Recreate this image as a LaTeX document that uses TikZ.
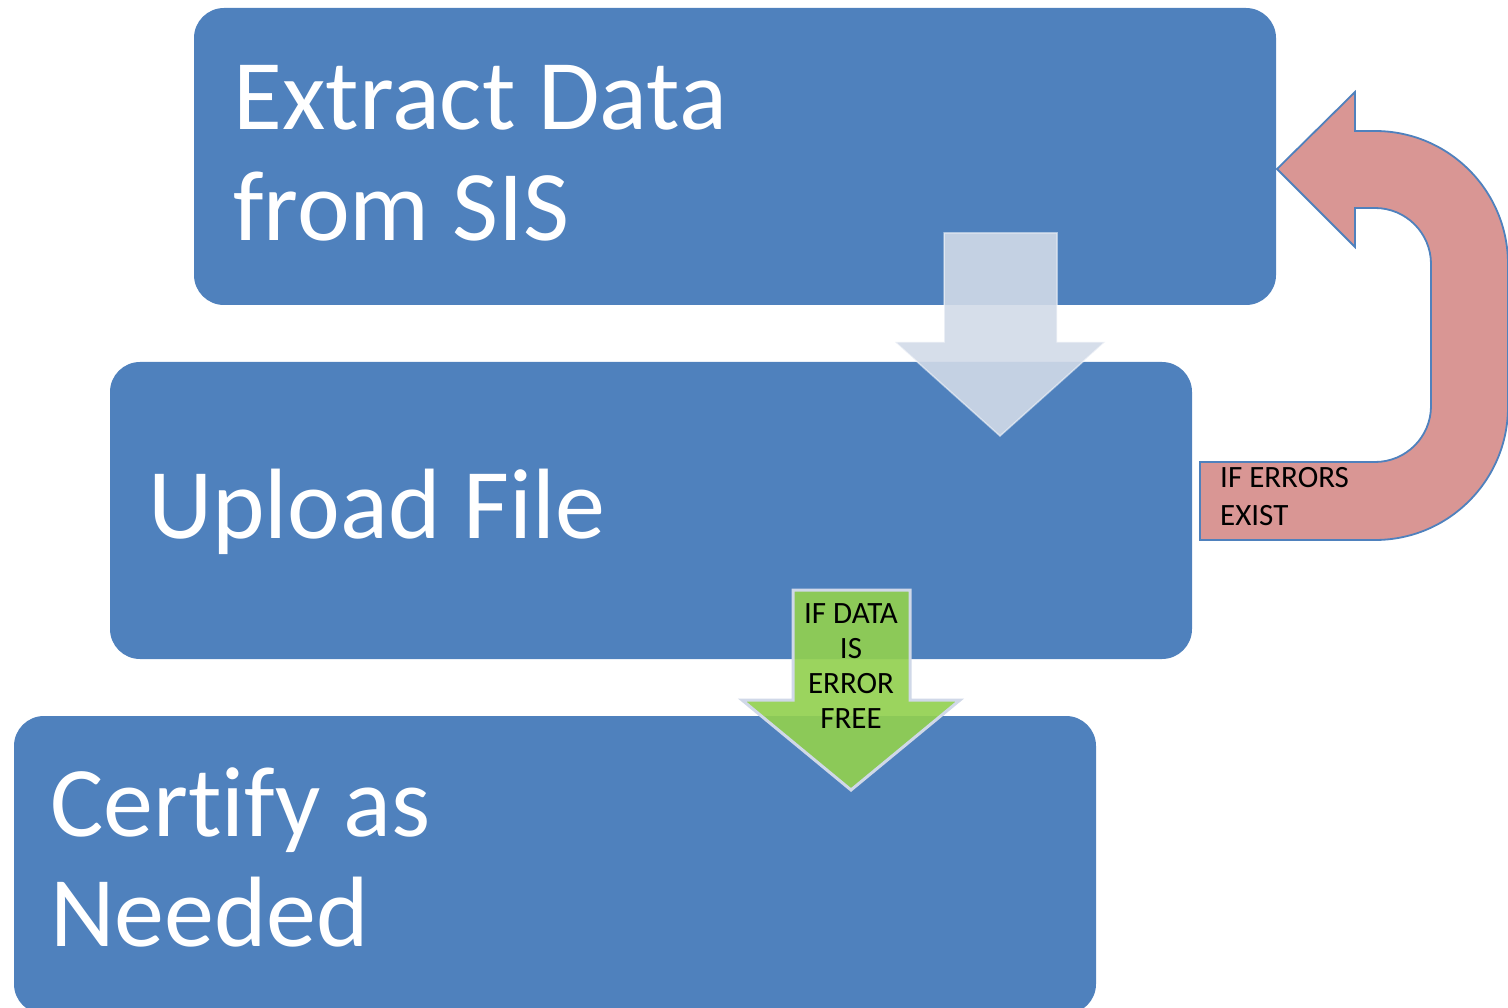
\documentclass[tikz,border=0pt]{standalone}
\usepackage{fontspec}
\setmainfont{Carlito}[Ligatures=NoCommon]
\begin{document}
\begin{tikzpicture}[x=1pt,y=-1pt,
  stepbox/.style={fill=boxblue,rounded corners=30pt},
  bigtext/.style={text=white,inner sep=0pt,anchor=base west,font=\fontsize{100}{111}\selectfont},
  smalltext/.style={text=black,inner sep=0pt,anchor=base,font=\fontsize{31}{35}\selectfont},
  errtext/.style={text=black,inner sep=0pt,anchor=base west,font=\fontsize{31}{38}\selectfont}]
\definecolor{boxblue}{RGB}{79,129,189}
\definecolor{lightarrow}{RGB}{209,218,232}
\definecolor{greenarrow}{RGB}{146,208,80}
\definecolor{greenedge}{RGB}{208,216,232}
\definecolor{redarrow}{RGB}{217,150,148}
\useasboundingbox (0,0) rectangle (1508,1008);
\begin{scope}
\clip (0,0) rectangle (1508,1008);
% boxes
\path[stepbox] (194,8) rectangle (1276,305);
\path[stepbox] (110,362) rectangle (1192,659);
\path[stepbox] (14,716) rectangle (1096,1014);
% texts
\node[bigtext] (e1) at (233,130) {Extract Data};
\node[bigtext] (e2) at (233,241) {from SIS};
\node[bigtext] (u1) at (148,538) {Upload File};
\node[bigtext] (c1) at (50,836) {Certify as};
\node[bigtext] (c2) at (50,946) {Needed};
% light arrow between box 1 and box 2
\draw[fill=lightarrow,fill opacity=0.9,draw=white,draw opacity=0.5,line width=1.5pt,line join=miter]
  (944,233) -- (1057,233) -- (1057,342) -- (1105,342) -- (1000,436) -- (895,342) -- (944,342) -- cycle;
% green arrow between box 2 and box 3
\draw[fill=greenarrow,fill opacity=0.92,draw=greenedge,line width=3pt,line join=miter]
  (793,590) -- (910,590) -- (910,700) -- (960,700) -- (851,790) -- (742,700) -- (793,700) -- cycle;
\node[smalltext] (g1) at (851,623) {IF DATA};
\node[smalltext] (g2) at (851,658) {IS};
\node[smalltext] (g3) at (851,693) {ERROR};
\node[smalltext] (g4) at (851,728) {FREE};
% red U-turn arrow
\draw[fill=redarrow,draw=boxblue,line width=1.8pt,line join=miter]
  (1277,169) -- (1355,92) -- (1355,131) -- (1375,131)
  arc[start angle=-90,end angle=0,radius=133] -- (1508,407)
  arc[start angle=0,end angle=90,radius=133] -- (1200,540) -- (1200,462) -- (1375,462)
  arc[start angle=90,end angle=0,radius=56] -- (1431,264)
  arc[start angle=0,end angle=-90,radius=56] -- (1355,208) -- (1355,247) -- cycle;
\node[errtext] (r1) at (1220,487) {IF ERRORS};
\node[errtext] (r2) at (1220,525) {EXIST};
\end{scope}
\end{tikzpicture}
\end{document}
